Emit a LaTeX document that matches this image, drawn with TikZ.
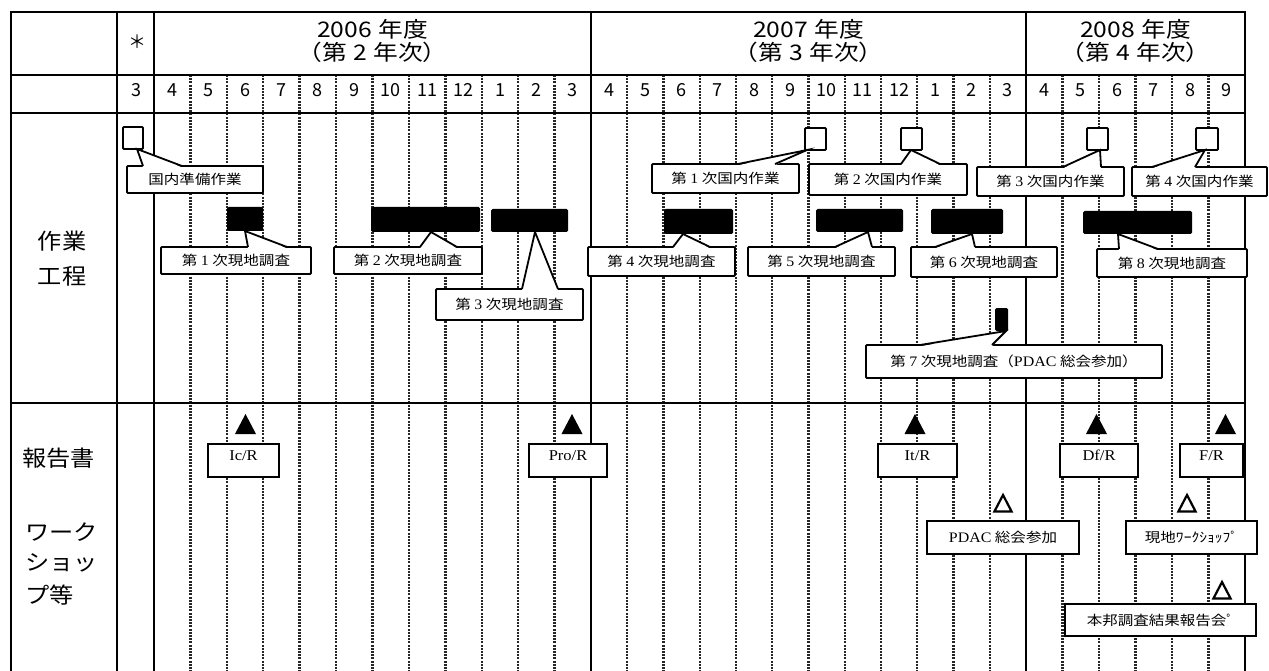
\documentclass[tikz,border=0pt]{standalone}
\usepackage{fontspec}
\setmainfont{Liberation Serif}[FakeStretch=1.1]
\newfontfamily\jh{Noto Sans CJK JP}[FakeStretch=1.15]
\newfontfamily\jp{Noto Sans CJK JP}[FakeStretch=1.1]
\newfontfamily\jb{Noto Sans CJK JP}[FakeStretch=1.15]
\newfontfamily\jm{Noto Sans CJK JP}
\newcommand\lat[1]{{\rmfamily\fontsize{14.5}{16}\selectfont #1}}
\newcommand\hgap{\hspace{0.3em}}
\newcommand\calloutwedge[4]{%
  \path (#2,0 |- #1.north) ++(0,1.3) coordinate (#1wa);
  \path (#3,0 |- #1.north) ++(0,1.3) coordinate (#1wb);
  \fill[white] (#1wa) -- (#4) -- (#1wb) -- cycle;
  \draw[wline] (#2,0 |- #1.north) -- (#4) -- (#3,0 |- #1.north);
}
\newcommand\solidtri[3]{\coordinate (#1) at (#2,#3);
  \fill (#1) -- ++(10.5,20) -- ++(-21,0) -- cycle;}
\newcommand\opentri[3]{\coordinate (#1) at (#2,#3);
  \draw[line width=2.2pt, fill=white, line join=miter] (#1) ++(0,2) -- ++(8.6,16.5) -- ++(-17.2,0) -- cycle;}
\tikzset{
  gridline/.style={line width=2.5pt, line cap=rect},
  mline/.style={line width=2.4pt, dash pattern=on 2pt off 1.2pt, black!85},
  spanbox/.style n args={4}{minimum width={#3-#1}, minimum height={#4-#2}, at={({(#1+#3)/2},{(#2+#4)/2})}},
  cbox/.style={draw, fill=white, line width=1.8pt, rounded corners=1pt, inner sep=0pt, outer sep=0pt,
    font=\jb\fontsize{13.5}{16}\selectfont},
  wline/.style={line width=1.8pt, line join=miter},
  bar/.style={fill=black, rounded corners=1.5pt, inner sep=0pt, outer sep=0pt},
  msq/.style={draw, fill=white, line width=1.8pt, rounded corners=1pt, inner sep=0pt, outer sep=0pt},
  rbox/.style={draw, fill=white, line width=2pt, inner sep=0pt, text height=10pt, text depth=11pt,
    font=\rmfamily\fontsize{15}{17}\selectfont},
  wbox/.style={draw, fill=white, line width=2pt, inner sep=0pt, font=\jb\fontsize{13.5}{16}\selectfont},
  hdr/.style={inner sep=0pt, font=\jh\fontsize{21.5}{24}\selectfont},
  mon/.style={inner sep=0pt, anchor=base, font=\jm\fontsize{18}{20}\selectfont},
  sec/.style={inner sep=0pt, font=\jp\fontsize{22}{26}\selectfont},
}
\begin{document}
\begin{tikzpicture}[x=1pt,y=-1pt]
\useasboundingbox (0,0) rectangle (1269,671);
% month separators
\foreach \k in {1,...,11} {\draw[mline] ({154+\k*36.42},75) -- ({154+\k*36.42},671);}
\foreach \k in {1,...,11} {\draw[mline] ({591+\k*36.25},75) -- ({591+\k*36.25},671);}
\foreach \k in {1,...,5} {\draw[mline] ({1026+\k*36.5},75) -- ({1026+\k*36.5},671);}
% table frame
\draw[gridline] (11,671) -- (11,12) -- (1245,12) -- (1245,671);
\foreach \x in {117,154,591,1026} {\draw[gridline] (\x,12) -- (\x,671);}
\foreach \y in {75,113,403} {\draw[gridline] (11,\y) -- (1245,\y);}
% header
\node[inner sep=0pt, font=\jm\fontsize{18}{20}\selectfont] (ast) at (137,42) {＊};
\node[hdr, anchor=base] (y6a) at (372.5,38) {2006\hgap 年度};
\node[hdr, anchor=base] (y6b) at (372.5,61) {（第\hgap 2\hgap 年次）};
\node[hdr, anchor=base] (y7a) at (808.5,38) {2007\hgap 年度};
\node[hdr, anchor=base] (y7b) at (808.5,61) {（第\hgap 3\hgap 年次）};
\node[hdr, anchor=base] (y8a) at (1135.5,38) {2008\hgap 年度};
\node[hdr, anchor=base] (y8b) at (1135.5,61) {（第\hgap 4\hgap 年次）};
% months
\node[mon] (m0) at (136,97) {3};
\foreach \m [count=\i from 0] in {4,5,6,7,8,9,10,11,12,1,2,3}
  {\node[mon] (ma\i) at ({154+(\i+0.5)*36.42},97) {\m};}
\foreach \m [count=\i from 0] in {4,5,6,7,8,9,10,11,12,1,2,3}
  {\node[mon] (mb\i) at ({591+(\i+0.5)*36.25},97) {\m};}
\foreach \m [count=\i from 0] in {4,5,6,7,8,9}
  {\node[mon] (mc\i) at ({1026+(\i+0.5)*36.5},97) {\m};}
% section labels
\node[sec, anchor=base] (s1a) at (62,249) {作業};
\node[sec, anchor=base] (s1b) at (62,284) {工程};
\node[sec, anchor=base west] (s2a) at (22,466) {報告書};
\node[sec, anchor=base west] (s2b) at (25,540) {ワーク};
\node[sec, anchor=base west] (s2c) at (25,570) {ショッ};
\node[sec, anchor=base west] (s2d) at (25,603) {プ等};
% domestic work squares
\node[msq, spanbox={123}{127}{143}{149}] (q0) {};
\node[msq, spanbox={805}{128}{826}{150}] (q1) {};
\node[msq, spanbox={901}{128}{922}{150}] (q2) {};
\node[msq, spanbox={1087}{128}{1108}{150}] (q3) {};
\node[msq, spanbox={1196}{128}{1218}{150}] (q4) {};
% field survey bars
\node[bar, spanbox={227}{207}{263}{231}] (b1) {};
\node[bar, spanbox={371}{207}{480}{232}] (b2) {};
\node[bar, spanbox={491}{209}{568}{232}] (b3) {};
\node[bar, spanbox={664}{209}{733}{234}] (b4) {};
\node[bar, spanbox={816}{209}{903}{232}] (b5) {};
\node[bar, spanbox={931}{209}{1003}{234}] (b6) {};
\node[bar, spanbox={995}{308}{1008}{331}] (b7) {};
\node[bar, spanbox={1083}{211}{1192}{234}] (b8) {};
% callouts: domestic work
\node[cbox, spanbox={127}{166}{263}{193}] (c0) {国内準備作業};
\calloutwedge{c0}{143}{182}{137,0 |- q0.south}
\node[cbox, spanbox={652}{164}{799}{193}] (c1) {第 \lat{1} 次国内作業};
\calloutwedge{c1}{738}{775}{807,0 |- q1.south}
\node[cbox, spanbox={809}{164}{967}{195}] (c2) {第 \lat{2} 次国内作業};
\calloutwedge{c2}{901}{940}{911,0 |- q2.south}
\node[cbox, spanbox={977}{167}{1124}{196}] (c3) {第 \lat{3} 次国内作業};
\calloutwedge{c3}{1063}{1101}{1100,0 |- q3.south}
\node[cbox, spanbox={1132}{167}{1267}{196}] (c4) {第 \lat{4} 次国内作業};
\calloutwedge{c4}{1152}{1195}{1205,0 |- q4.south}
% callouts: field surveys
\node[cbox, spanbox={161}{247}{311}{274}] (d1) {第 \lat{1} 次現地調査};
\calloutwedge{d1}{248}{287}{245,0 |- b1.south}
\node[cbox, spanbox={334}{247}{482}{274}] (d2) {第 \lat{2} 次現地調査};
\calloutwedge{d2}{420}{457}{431,0 |- b2.south}
\node[cbox, spanbox={436}{289}{583}{320}] (d3) {第 \lat{3} 次現地調査};
\calloutwedge{d3}{522}{558}{535,0 |- b3.south}
\node[cbox, spanbox={588}{247}{735}{276}] (d4) {第 \lat{4} 次現地調査};
\calloutwedge{d4}{673}{710}{683,0 |- b4.south}
\node[cbox, spanbox={748}{247}{895}{276}] (d5) {第 \lat{5} 次現地調査};
\calloutwedge{d5}{835}{872}{868,0 |- b5.south}
\node[cbox, spanbox={911}{247}{1057}{277}] (d6) {第 \lat{6} 次現地調査};
\calloutwedge{d6}{935}{975}{972,0 |- b6.south}
\node[cbox, spanbox={1097}{249}{1247}{277}] (d8) {第 \lat{8} 次現地調査};
\calloutwedge{d8}{1119}{1158}{1118,0 |- b8.south}
\node[cbox, spanbox={866}{345}{1162}{378}] (d7) {第 \lat{7} 次現地調査（\lat{PDAC} 総会参加）};
\calloutwedge{d7}{920}{992}{1006,0 |- b7.south}
% reports
\solidtri{t1}{245.5}{414}
\solidtri{t2}{572}{414}
\solidtri{t3}{915}{414}
\solidtri{t4}{1096.5}{414}
\solidtri{t5}{1225.5}{414}
\node[rbox, spanbox={208}{444}{279}{477}] (r1) {Ic/R};
\node[rbox, spanbox={529}{444}{607}{477}] (r2) {Pro/R};
\node[rbox, spanbox={878}{444}{957}{477}] (r3) {It/R};
\node[rbox, spanbox={1060}{444}{1138}{477}] (r4) {Df/R};
\node[rbox, spanbox={1180}{444}{1243}{477}] (r5) {F/R};
% workshops
\opentri{o1}{1003}{493}
\opentri{o2}{1187}{493}
\opentri{o3}{1222}{580}
\node[wbox, spanbox={927}{521}{1079}{554}] (w1) {\lat{PDAC} 総会参加};
\node[wbox, spanbox={1126}{521}{1257}{554}] (w2) {現地ﾜｰｸｼｮｯﾌﾟ};
\node[wbox, spanbox={1065}{604}{1256}{636}] (w3) {本邦調査結果報告会ﾟ};
\end{tikzpicture}
\end{document}
